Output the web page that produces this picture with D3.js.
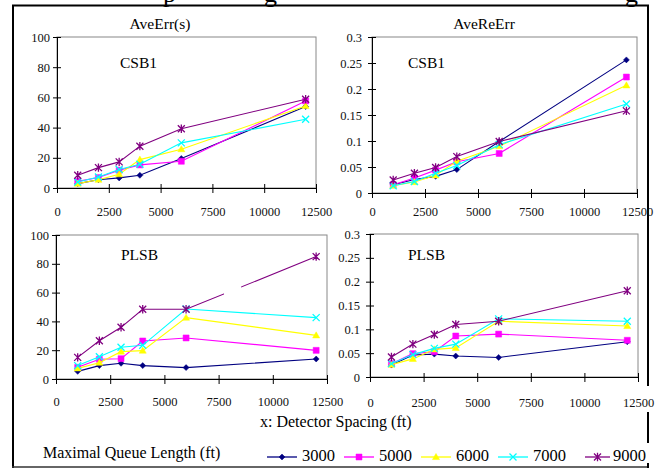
<!DOCTYPE html>
<html>
<head>
<meta charset="utf-8">
<script src="https://cdn.jsdelivr.net/npm/d3@7"></script>
<style>
  html, body { margin: 0; padding: 0; background: #fff; }
  svg { display: block; }
  svg text { font-family: 'Liberation Serif', 'Times New Roman', 'DejaVu Serif', serif; }
</style>
</head>
<body>
<div id="chart"></div>
<script>
// Detector spacing (ft)
const spacing = [1000, 2000, 3000, 4000, 6000, 12000];

// Maximal queue length series
const queueLengths = ['3000', '5000', '6000', '7000', '9000'];
const seriesColors = ['#000080', '#FF00FF', '#FFFF00', '#00FFFF', '#800080'];
const seriesMarkers = ['diamond', 'square', 'triangle', 'x', 'star'];

// CSB1 - AveErr(s), one row per queue length
const csb1AveErr = [
  [2.9, 5.5, 6.7, 8.4, 19.5, 53.9],
  [4.4, 6.9, 11.8, 15.3, 17.7, 57.6],
  [2.9, 5.5, 9.1, 18.8, 25.7, 54.3],
  [4.0, 7.3, 12.2, 15.7, 29.9, 45.5],
  [8.4, 13.5, 17.3, 27.7, 39.2, 58.8]
];

// CSB1 - AveReErr
const csb1AveReErr = [
  [0.016, 0.026, 0.032, 0.045, 0.099, 0.256],
  [0.016, 0.029, 0.044, 0.060, 0.076, 0.223],
  [0.014, 0.021, 0.034, 0.061, 0.090, 0.207],
  [0.014, 0.022, 0.038, 0.053, 0.093, 0.171],
  [0.025, 0.038, 0.049, 0.070, 0.099, 0.158]
];

// PLSB - AveErr(s)
const plsbAveErr = [
  [5.3, 9.3, 10.9, 9.3, 7.9, 13.9],
  [8.1, 13.7, 14.1, 26.4, 28.5, 19.9],
  [7.4, 11.3, 19.0, 19.7, 42.6, 30.3],
  [9.3, 15.5, 22.0, 23.4, 48.6, 42.6],
  [15.0, 26.6, 35.9, 48.4, 48.4, 85.0]
];

// PLSB - AveReErr
const plsbAveReErr = [
  [0.025, 0.046, 0.048, 0.044, 0.041, 0.074],
  [0.028, 0.049, 0.053, 0.086, 0.090, 0.077],
  [0.026, 0.038, 0.058, 0.061, 0.117, 0.107],
  [0.028, 0.047, 0.060, 0.069, 0.122, 0.117],
  [0.042, 0.069, 0.089, 0.110, 0.117, 0.181]
];

// Tick labels
const xTicks = [0, 2500, 5000, 7500, 10000, 12500];
const errTicks = [0, 20, 40, 60, 80, 100];
const reErrTicks = [0, 0.05, 0.1, 0.15, 0.2, 0.25, 0.3];

const width = 655;
const height = 469;
const serif = "'Liberation Serif', 'Times New Roman', 'DejaVu Serif', serif";

const svg = d3
  .select('#chart')
  .append('svg')
  .attr('width', width)
  .attr('height', height)
  .attr('viewBox', `0 0 ${width} ${height}`)
  .attr('font-family', serif);

svg.append('rect').attr('width', width).attr('height', height).attr('fill', '#fff');

// Cropped heading of the original page (only descenders are left)
const headingBits = [
  { t: 'p', x: 163 },
  { t: 'g', x: 264 },
  { t: 'g', x: 625 }
];
svg
  .selectAll('.heading')
  .data(headingBits)
  .join('text')
  .attr('class', 'heading')
  .attr('x', (d) => d.x)
  .attr('y', 2)
  .attr('font-size', 26)
  .attr('fill', '#000')
  .text((d) => d.t);

// Outer frame
const frame = svg.append('g').attr('stroke', '#000').attr('fill', 'none');
frame.append('line').attr('x1', 12).attr('x2', 649).attr('y1', 5.5).attr('y2', 5.5).attr('stroke-width', 2);
frame.append('line').attr('x1', 13).attr('x2', 13).attr('y1', 5).attr('y2', 468).attr('stroke-width', 2);
frame.append('line').attr('x1', 12).attr('x2', 649).attr('y1', 467).attr('y2', 467).attr('stroke-width', 1.5).attr('stroke', '#333');
[[5, 386], [412, 443], [463, 468]].forEach(([a, b]) => {
  frame.append('line').attr('x1', 648).attr('x2', 648).attr('y1', a).attr('y2', b).attr('stroke-width', 2);
});

// Marker shapes
const markerPath = (type, s) => {
  switch (type) {
    case 'diamond':
      return `M0,${-s}L${s},0L0,${s}L${-s},0Z`;
    case 'square':
      return `M${-s},${-s}H${s}V${s}H${-s}Z`;
    case 'triangle':
      return `M0,${-s * 1.1}L${s * 1.1},${s * 0.8}L${-s * 1.1},${s * 0.8}Z`;
    case 'x':
      return `M${-s},${-s}L${s},${s}M${-s},${s}L${s},${-s}`;
    default:
      return `M${-s},${-s}L${s},${s}M${-s},${s}L${s},${-s}M0,${-s * 1.2}V${s * 1.2}`;
  }
};
const markerSize = { diamond: 3, square: 3, triangle: 3.2, x: 3.5, star: 3.5 };

const panels = [
  {
    data: csb1AveErr, title: 'AveErr(s)', label: 'CSB1', yMax: 100, yTicks: errTicks,
    x0: 57, x1: 316, y0: 37, y1: 188, titleX: 160, titleY: 29, labelX: 120, labelY: 68,
    tickY: 216, tickGap: 7
  },
  {
    data: csb1AveReErr, title: 'AveReErr', label: 'CSB1', yMax: 0.3, yTicks: reErrTicks,
    x0: 372, x1: 637, y0: 37, y1: 193, titleX: 484, titleY: 29, labelX: 408, labelY: 68,
    tickY: 216, tickGap: 10
  },
  {
    data: plsbAveErr, title: null, label: 'PLSB', yMax: 100, yTicks: errTicks,
    x0: 56, x1: 327, y0: 235, y1: 379, labelX: 121, labelY: 260,
    tickY: 406, tickGap: 7,
    occlude: { x: [7750, 8540], y: [55, 66] }
  },
  {
    data: plsbAveReErr, title: null, label: 'PLSB', yMax: 0.3, yTicks: reErrTicks,
    x0: 370, x1: 638, y0: 234, y1: 377, labelX: 408, labelY: 260,
    tickY: 407, tickGap: 10
  }
];

panels.forEach((p) => {
  const g = svg.append('g');
  const x = d3.scaleLinear().domain([0, 12500]).range([p.x0, p.x1]);
  const y = d3.scaleLinear().domain([0, p.yMax]).range([p.y1, p.y0]);

  // Plot area border
  g.append('rect')
    .attr('x', p.x0).attr('y', p.y0)
    .attr('width', p.x1 - p.x0).attr('height', p.y1 - p.y0)
    .attr('fill', 'none').attr('stroke', '#888').attr('stroke-width', 1);

  // Y axis
  const yAxis = g.append('g')
    .attr('transform', `translate(${p.x0},0)`)
    .call(d3.axisLeft(y).tickValues(p.yTicks).tickSizeInner(4).tickSizeOuter(0).tickFormat((d) => String(d)));
  yAxis.attr('font-family', serif);
  yAxis.selectAll('.tick line').attr('x1', 4).attr('x2', -4).attr('stroke', '#000');
  yAxis.select('.domain').attr('stroke', '#000');
  yAxis.selectAll('.tick text')
    .attr('x', -p.tickGap)
    .attr('font-size', 12.5)
    .attr('fill', '#111');

  // X axis
  const xAxis = g.append('g')
    .attr('transform', `translate(0,${p.y1})`)
    .call(d3.axisBottom(x).tickValues(xTicks).tickSizeInner(4).tickSizeOuter(0).tickFormat((d) => String(d)));
  xAxis.attr('font-family', serif);
  xAxis.selectAll('.tick line').attr('y1', -4).attr('y2', 5).attr('stroke', '#000');
  xAxis.select('.domain').attr('stroke', '#000');
  xAxis.selectAll('.tick text')
    .attr('y', p.tickY - p.y1)
    .attr('dy', 0)
    .attr('font-size', 12.5)
    .attr('fill', '#111');

  // Series lines and markers
  const line = d3.line().x((d) => x(d[0])).y((d) => y(d[1]));
  p.data.forEach((vals, si) => {
    const pts = spacing.map((s, i) => [s, vals[i]]);
    g.append('path')
      .attr('d', line(pts))
      .attr('fill', 'none')
      .attr('stroke', seriesColors[si])
      .attr('stroke-width', 1.1);
    const type = seriesMarkers[si];
    const stroked = type === 'x' || type === 'star';
    g.selectAll(null)
      .data(pts)
      .join('path')
      .attr('transform', (d) => `translate(${x(d[0])},${y(d[1])})`)
      .attr('d', markerPath(type, markerSize[type]))
      .attr('fill', stroked ? 'none' : seriesColors[si])
      .attr('stroke', seriesColors[si])
      .attr('stroke-width', stroked ? 1.3 : 0.5);
  });

  // Something in the source sheet covers part of the 9000 line
  if (p.occlude) {
    g.append('rect')
      .attr('x', x(p.occlude.x[0]))
      .attr('y', y(p.occlude.y[1]))
      .attr('width', x(p.occlude.x[1]) - x(p.occlude.x[0]))
      .attr('height', y(p.occlude.y[0]) - y(p.occlude.y[1]))
      .attr('fill', '#fff');
  }

  if (p.title) {
    g.append('text')
      .attr('x', p.titleX).attr('y', p.titleY)
      .attr('text-anchor', 'middle')
      .attr('font-size', 15.5)
      .text(p.title);
  }
  g.append('text')
    .attr('x', p.labelX).attr('y', p.labelY)
    .attr('font-size', 15.5)
    .text(p.label);
});

// X axis title
svg.append('text')
  .attr('x', 260).attr('y', 427)
  .attr('font-size', 16)
  .text('x: Detector Spacing (ft)');

// Legend
svg.append('text')
  .attr('x', 43).attr('y', 458)
  .attr('font-size', 16)
  .text('Maximal Queue Length (ft)');

const legendX = [267, 344, 421, 498, 585];
const legend = svg
  .selectAll('.legend')
  .data(queueLengths)
  .join('g')
  .attr('class', 'legend')
  .attr('transform', (d, i) => `translate(${legendX[i]}, 457)`);
legend.append('line')
  .attr('x1', 0).attr('x2', (d, i) => (i === 4 ? 25 : 30))
  .attr('stroke', (d, i) => seriesColors[i])
  .attr('stroke-width', 1.3);
legend.append('path')
  .attr('transform', (d, i) => `translate(${i === 4 ? 12.5 : 15},0)`)
  .attr('d', (d, i) => markerPath(seriesMarkers[i], markerSize[seriesMarkers[i]]))
  .attr('fill', (d, i) => (i >= 3 ? 'none' : seriesColors[i]))
  .attr('stroke', (d, i) => seriesColors[i])
  .attr('stroke-width', (d, i) => (i >= 3 ? 1.3 : 0.5));
legend.append('text')
  .attr('x', (d, i) => (i === 4 ? 28 : 35))
  .attr('y', 4)
  .attr('font-size', 16.5)
  .text((d) => d);
</script>
</body>
</html>
